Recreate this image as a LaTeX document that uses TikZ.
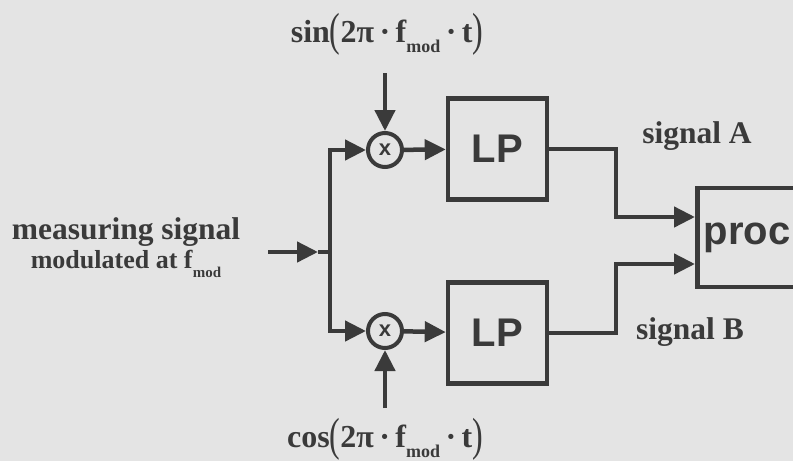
\documentclass[tikz,border=0pt]{standalone}
\usepackage{fontspec}
\usepackage{graphicx}
\setmainfont{Liberation Serif}
\newfontfamily\sansfam{Liberation Sans}
\usetikzlibrary{arrows.meta}
\definecolor{bg}{HTML}{E4E4E4}
\definecolor{ink}{HTML}{3A3A3A}
\newcommand{\fmodsub}[1]{\textbf{f}\raisebox{-0.32em}{\fontsize{#1}{#1}\selectfont\bfseries mod}}
\newcommand{\bparen}[1]{\raisebox{-0.08em}{\scalebox{1}[1.45]{\mdseries #1}}}
\begin{document}
\begin{tikzpicture}[x=1pt,y=-1pt,
  wire/.style={draw=ink,line width=4.5pt},
  arr/.style={wire,-{Triangle[length=21pt,width=20pt]}},
  lpbox/.style={draw=ink,line width=4.5pt,minimum width=99pt,minimum height=101pt,inner sep=0pt,font=\sansfam\bfseries\fontsize{40}{40}\selectfont,text=ink},
  mixer/.style={circle,draw=ink,line width=4pt,minimum size=34pt,inner sep=0pt,font=\sansfam\bfseries\fontsize{22}{22}\selectfont,text=ink},
  lbl/.style={text=ink,font=\bfseries\fontsize{31.5}{31.5}\selectfont,inner sep=0pt,align=center}]
\clip (0,0) rectangle (793,461);
\fill[bg] (0,0) rectangle (793,461);
\useasboundingbox (0,0) rectangle (793,461);
% nodes
\node[mixer] (m1) at (385,150) {x};
\node[mixer] (m2) at (385,331) {x};
\node[lpbox] (lp1) at (497.5,149) {LP};
\node[lpbox] (lp2) at (497.5,333) {LP};
\node[lpbox,minimum width=110pt,minimum height=99pt,anchor=west] (proc) at (695,237.5) {\hspace*{-10pt}proc};
% labels
\node[lbl,font=\bfseries\fontsize{32}{32}\selectfont] (sinl) at (387,34) {sin\bparen{(}2π\,·\,\fmodsub{18}\,·\,t\bparen{)}};
\node[lbl,font=\bfseries\fontsize{32}{32}\selectfont] (cosl) at (385,439) {cos\bparen{(}2π\,·\,\fmodsub{18}\,·\,t\bparen{)}};
\node[lbl] (meas) at (126,232) {measuring signal};
\node[lbl,font=\bfseries\fontsize{26}{26}\selectfont] (modl) at (126,264) {modulated at \fmodsub{15}};
\node[lbl] (sA) at (697,136) {signal A};
\node[lbl] (sB) at (690,332) {signal B};
% coordinates
\coordinate (in) at (268,252);
\coordinate (intip) at (318,252);
\coordinate (j) at (330,252);
\coordinate (jt) at (330,150);
\coordinate (jb) at (330,331);
\coordinate (sinst) at (385,73);
\coordinate (cosst) at (385,408);
\coordinate (a1) at (616,149);
\coordinate (a2) at (616,217);
\coordinate (b1) at (616,333);
\coordinate (b2) at (616,264);
\coordinate (pa) at (proc.west |- a2);
\coordinate (pb) at (proc.west |- b2);
% connectors
\draw[arr] (in) -- (intip);
\draw[wire] (intip) -- (j);
\draw[arr] (j) -- (jt) -- (m1);
\draw[arr] (j) -- (jb) -- (m2);
\draw[arr] (sinst) -- (m1);
\draw[arr] (cosst) -- (m2);
\draw[arr] (m1) -- (lp1);
\draw[arr] (m2) -- (lp2);
\draw[arr] (lp1.east |- a1) -- (a1) -- (a2) -- (pa);
\draw[arr] (lp2.east |- b1) -- (b1) -- (b2) -- (pb);
\end{tikzpicture}
\end{document}
